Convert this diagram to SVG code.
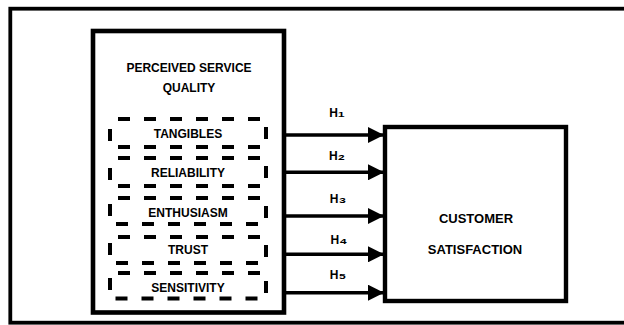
<svg xmlns="http://www.w3.org/2000/svg" width="624" height="325" viewBox="0 0 624 325">
  <style>
    .box { fill: #ffffff; stroke: #000000; }
    .dash { fill: none; stroke: #000000; stroke-width: 4; stroke-dasharray: 12 14; stroke-dashoffset: 18; }
    .lbl { font-family: "Liberation Sans", Arial, sans-serif; font-weight: bold; font-size: 12px; fill: #000000; text-anchor: middle; }
    .big { font-size: 13px; }
    .sub { font-size: 17px; }
    .conn { stroke: #000000; stroke-width: 3.5; fill: none; }
  </style>
  <defs>
    <marker id="arrow" markerUnits="userSpaceOnUse" markerWidth="17" markerHeight="16" refX="16" refY="8" orient="auto">
      <path d="M0,0 L16,8 L0,16 Z" fill="#000000"/>
    </marker>
  </defs>
  <rect width="624" height="325" fill="#ffffff"/>
  <g id="frame">
    <rect x="10.3" y="8.7" width="640" height="314" fill="none" stroke="#000000" stroke-width="3.8"/>
  </g>
  <g id="perceived-service-quality">
    <rect class="box" x="93" y="31" width="191" height="281.5" stroke-width="4.6"/>
    <text class="lbl" x="189" y="72">PERCEIVED SERVICE</text>
    <text class="lbl" x="189" y="92">QUALITY</text>
  </g>
  <g id="tangibles">
    <rect class="dash" x="110" y="119" width="156" height="28"/>
    <text class="lbl" x="188" y="138">TANGIBLES</text>
  </g>
  <g id="reliability">
    <rect class="dash" x="110" y="158" width="156" height="28"/>
    <text class="lbl" x="188" y="177">RELIABILITY</text>
  </g>
  <g id="enthusiasm">
    <rect class="dash" x="110" y="198" width="156" height="26"/>
    <text class="lbl" x="188" y="217">ENTHUSIASM</text>
  </g>
  <g id="trust">
    <rect class="dash" x="110" y="237" width="156" height="26"/>
    <text class="lbl" x="188" y="254">TRUST</text>
  </g>
  <g id="sensitivity">
    <rect class="dash" x="110" y="273" width="156" height="25.5"/>
    <text class="lbl" x="188" y="292">SENSITIVITY</text>
  </g>
  <g id="customer-satisfaction">
    <rect class="box" x="385" y="127" width="181" height="174" stroke-width="4.4"/>
    <text class="lbl big" x="476" y="223">CUSTOMER</text>
    <text class="lbl big" x="475" y="254">SATISFACTION</text>
  </g>
  <g id="connectors">
    <line class="conn" x1="286" y1="135" x2="384" y2="135" marker-end="url(#arrow)"/>
    <line class="conn" x1="286" y1="172.3" x2="384" y2="172.3" marker-end="url(#arrow)"/>
    <line class="conn" x1="286" y1="216" x2="384" y2="216" marker-end="url(#arrow)"/>
    <line class="conn" x1="286" y1="254.3" x2="384" y2="254.3" marker-end="url(#arrow)"/>
    <line class="conn" x1="286" y1="292.7" x2="384" y2="292.7" marker-end="url(#arrow)"/>
    <text class="lbl" x="337" y="117">H<tspan class="sub">₁</tspan></text>
    <text class="lbl" x="337" y="159.5">H<tspan class="sub">₂</tspan></text>
    <text class="lbl" x="338" y="203">H<tspan class="sub">₃</tspan></text>
    <text class="lbl" x="339" y="244">H<tspan class="sub">₄</tspan></text>
    <text class="lbl" x="338" y="279">H<tspan class="sub">₅</tspan></text>
  </g>
</svg>
